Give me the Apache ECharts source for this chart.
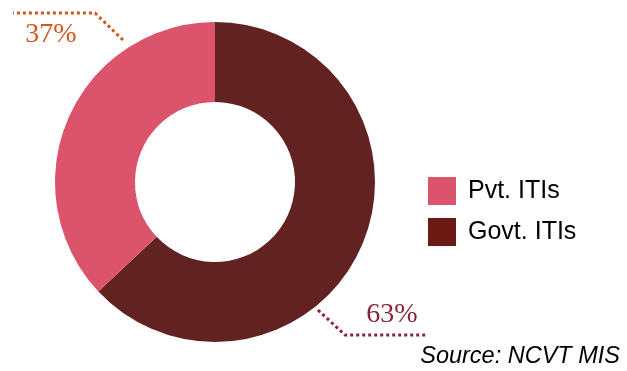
<!DOCTYPE html>
<html><head><meta charset="utf-8">
<script src="https://cdn.jsdelivr.net/npm/echarts@6/dist/echarts.min.js"></script>
<style>html,body{margin:0;padding:0;background:#fff}#c{width:627px;height:371px}</style>
</head><body><div id="c"></div>
<script>
const categories = ['Govt. ITIs', 'Pvt. ITIs'];
const values = [63, 37];
const legendOrder = ['Pvt. ITIs', 'Govt. ITIs'];
const sliceColors = ['#622222', '#DB546C'];
const legendColors = {'Pvt. ITIs': '#DB546C', 'Govt. ITIs': '#6E1A14'};
const labelColors = ['#8A2238', '#D4561B'];

const chart = echarts.init(document.getElementById('c'));
const labelPos = {
  'Govt. ITIs': {x: 392, y: 315, pts: [[318, 310], [345, 335], [428, 335]]},
  'Pvt. ITIs': {x: 51, y: 35, pts: [[123, 40], [95, 13], [13, 13]]}
};
chart.setOption({
  animation: false,
  legend: {
    orient: 'vertical', left: 423, top: 172, itemWidth: 28, itemHeight: 28, itemGap: 13,
    textStyle: {fontFamily: 'Liberation Sans, Arial', fontSize: 25, lineHeight: 28, color: '#000', padding: [0, 0, 0, 7]},
    icon: 'rect',
    data: legendOrder.map(n => ({name: n, itemStyle: {color: legendColors[n]}}))
  },
  graphic: [{
    type: 'text', right: 7, bottom: 3,
    style: {text: 'Source: NCVT MIS', font: 'italic 23.5px "Liberation Sans", Arial', fill: '#000'}
  }],
  series: [{
    type: 'pie', center: [215, 182], radius: [80, 160], startAngle: 90, clockwise: true,
    itemStyle: {borderWidth: 0},
    data: categories.map((n, i) => ({
      name: n, value: values[i],
      itemStyle: {color: sliceColors[i]},
      label: {color: labelColors[i]},
      labelLine: {lineStyle: {color: labelColors[i]}}
    })),
    label: {
      show: true, position: 'outside', formatter: '{d}%', overflow: 'none', width: 200,
      fontFamily: 'Liberation Serif, DejaVu Serif, serif', fontSize: 28
    },
    labelLine: {show: true, lineStyle: {width: 3, type: [3, 3]}},
    labelLayout: function (p) {
      const l = labelPos[categories[p.dataIndex]];
      return {x: l.x, y: l.y, align: 'center', verticalAlign: 'middle', labelLinePoints: l.pts};
    }
  }]
});
</script></body></html>
